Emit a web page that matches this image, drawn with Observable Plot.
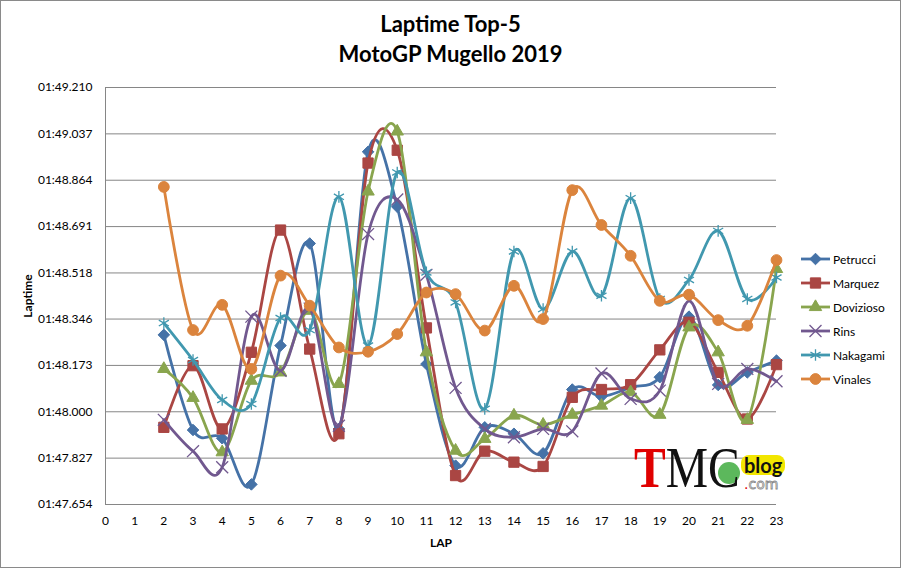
<!DOCTYPE html>
<html>
<head>
<meta charset="utf-8">
<script src="https://cdn.jsdelivr.net/npm/d3@7"></script>
<script src="https://cdn.jsdelivr.net/npm/@observablehq/plot@0.6"></script>
<style>
  body { margin: 0; background: #fff; font-family: Lato, "Open Sans", sans-serif; }
  #frame { position: absolute; left: 0; top: 0; width: 901px; height: 568px; box-sizing: border-box; border: 1px solid #8a8a8a; }
  #title { position: absolute; left: 0; top: 9px; width: 901px; text-align: center; font-weight: bold; font-size: 22px; line-height: 30px; color: #000; }
  #chart { position: absolute; left: 0; top: 70px; }
  #chart svg [aria-label$="axis label"] { font-weight: bold; }
  #legend { position: absolute; left: 800px; top: 247px; font-size: 12px; color: #000; }
  .row { height: 24px; display: flex; align-items: center; }
  .row svg { width: 31px; height: 24px; margin-right: 2px; }
  #logo { position: absolute; left: 634px; top: 440px; width: 170px; height: 60px; }
</style>
</head>
<body>
<div id="frame"></div>
<div id="title">Laptime Top-5<br>MotoGP Mugello 2019</div>
<div id="chart"></div>
<div id="legend"></div>
<div id="logo">
  <div style="position:absolute;left:84px;top:22px;width:22px;height:22px;border-radius:50%;background:#5cb85c;"></div>
  <div style="position:absolute;left:0;top:0;font-family:'Liberation Serif',serif;font-size:56px;line-height:56px;transform:scaleX(0.85);transform-origin:left top;white-space:nowrap;"><span style="color:#e00000;font-weight:bold">T</span><span style="color:#111">MC</span></div>
  <div style="position:absolute;left:107px;top:15px;background:#f2e600;border-radius:8px;padding:0 3px;font-weight:bold;font-size:20px;line-height:20px;color:#111;">blog</div>
  <div style="position:absolute;left:110px;top:37px;font-size:14px;line-height:14px;color:#fff;-webkit-text-stroke:0.8px #888;font-family:'DejaVu Sans',sans-serif;"><span style="color:#e00000;-webkit-text-stroke:0">.</span>com</div>
</div>
<script>
// ---- data ----
const laps = [2, 3, 4, 5, 6, 7, 8, 9, 10, 11, 12, 13, 14, 15, 16, 17, 18, 19, 20, 21, 22, 23];
const riders = ["Petrucci", "Marquez", "Dovizioso", "Rins", "Nakagami", "Vinales"];
// lap times in seconds (01:48.000 = 108.000)
const petrucci  = [108.287, 107.932, 107.901, 107.729, 108.247, 108.628, 107.936, 108.970, 108.765, 108.178, 107.799, 107.942, 107.918, 107.845, 108.083, 108.057, 108.091, 108.129, 108.355, 108.100, 108.147, 108.191];
const marquez   = [107.942, 108.172, 107.936, 108.222, 108.678, 108.234, 107.918, 108.928, 108.976, 108.313, 107.762, 107.853, 107.812, 107.796, 108.054, 108.083, 108.101, 108.231, 108.334, 108.147, 107.973, 108.176];
const dovizioso = [108.160, 108.052, 107.849, 108.116, 108.147, 108.377, 108.104, 108.822, 109.046, 108.222, 107.855, 107.899, 107.986, 107.952, 107.989, 108.023, 108.073, 107.989, 108.315, 108.222, 107.970, 108.533];
const rins      = [107.970, 107.853, 107.793, 108.355, 108.153, 108.385, 107.948, 108.663, 108.792, 108.511, 108.089, 107.936, 107.905, 107.936, 107.927, 108.143, 108.048, 108.079, 108.414, 108.104, 108.160, 108.114];
const nakagami  = [108.331, 108.193, 108.044, 108.029, 108.350, 108.305, 108.802, 108.247, 108.893, 108.520, 108.408, 108.011, 108.598, 108.383, 108.598, 108.433, 108.797, 108.421, 108.492, 108.675, 108.421, 108.501];
const vinales   = [108.839, 108.305, 108.399, 108.160, 108.508, 108.396, 108.240, 108.224, 108.290, 108.445, 108.439, 108.303, 108.470, 108.346, 108.827, 108.697, 108.582, 108.414, 108.437, 108.342, 108.321, 108.566];
const yTicks = [107.654, 107.827, 108.000, 108.173, 108.346, 108.518, 108.691, 108.864, 109.037, 109.210];
const yTickLabels = ["01:47.654", "01:47.827", "01:48.000", "01:48.173", "01:48.346", "01:48.518", "01:48.691", "01:48.864", "01:49.037", "01:49.210"];
const xTicks = [0, 1, 2, 3, 4, 5, 6, 7, 8, 9, 10, 11, 12, 13, 14, 15, 16, 17, 18, 19, 20, 21, 22, 23];

// ---- styles ----
const series = [petrucci, marquez, dovizioso, rins, nakagami, vinales];
const colors = ["#4572A7", "#AA4643", "#89A54E", "#71588F", "#4198AF", "#DB843D"];
const symbols = [
  {name: "diamond2", d3s: d3.symbolDiamond2, r: 5.2, filled: true},
  {name: "square", d3s: d3.symbolSquare, r: 5.8, filled: true},
  {name: "triangle", d3s: d3.symbolTriangle, r: 4.6, filled: true},
  {name: "times", d3s: d3.symbolTimes, r: 5.5, filled: false},
  {name: "asterisk", d3s: d3.symbolAsterisk, r: 5.5, filled: false},
  {name: "circle", d3s: d3.symbolCircle, r: 5.4, filled: true}
];

const fmt = new Map(yTicks.map((t, i) => [t, yTickLabels[i]]));

const marks = [
  Plot.gridY(yTicks, {stroke: "#868686", strokeOpacity: 1, strokeWidth: 1}),
  Plot.ruleX([0], {stroke: "#868686", strokeWidth: 1})
];
series.forEach((vals, i) => {
  const data = laps.map((lap, j) => ({lap, t: vals[j], rider: riders[i]}));
  marks.push(Plot.line(data, {x: "lap", y: "t", curve: "cardinal", stroke: colors[i], strokeWidth: 2.8}));
  const s = symbols[i];
  marks.push(Plot.dot(data, {
    x: "lap", y: "t", symbol: () => s.name, r: s.r,
    fill: s.filled ? colors[i] : "none",
    stroke: colors[i], strokeWidth: s.filled ? 1 : 1.3
  }));
});
marks.push(Plot.axisY(yTicks, {
  tickSize: 0, tickPadding: 13, tickFormat: d => fmt.get(d),
  label: "Laptime", labelAnchor: "center", labelArrow: "none", labelOffset: 82, fontSize: 12
}));
marks.push(Plot.axisX(xTicks, {
  tickSize: 0, tickPadding: 12, tickFormat: d => String(d),
  label: "LAP", labelAnchor: "center", labelArrow: "none", labelOffset: 42
}));

const chart = Plot.plot({
  width: 901,
  height: 498,
  marginTop: 17,
  marginBottom: 64,
  marginLeft: 105,
  marginRight: 125,
  style: {fontFamily: "Lato, 'Open Sans', sans-serif", fontSize: "12px", color: "#000", background: "transparent"},
  x: {domain: [0, 23]},
  y: {domain: [107.654, 109.210]},
  marks
});
document.getElementById("chart").appendChild(chart);

// ---- legend ----
const legend = d3.select("#legend");
riders.forEach((name, i) => {
  const row = legend.append("div").attr("class", "row");
  const svg = row.append("svg");
  svg.append("line").attr("x1", 1).attr("x2", 30).attr("y1", 12).attr("y2", 12)
    .attr("stroke", colors[i]).attr("stroke-width", 2.8);
  const s = symbols[i];
  svg.append("path").attr("transform", "translate(15.5,12)")
    .attr("d", d3.symbol(s.d3s, Math.PI * s.r * s.r)())
    .attr("fill", s.filled ? colors[i] : "none")
    .attr("stroke", colors[i]).attr("stroke-width", s.filled ? 1 : 1.3);
  row.append("span").text(name);
});
</script>
</body>
</html>
